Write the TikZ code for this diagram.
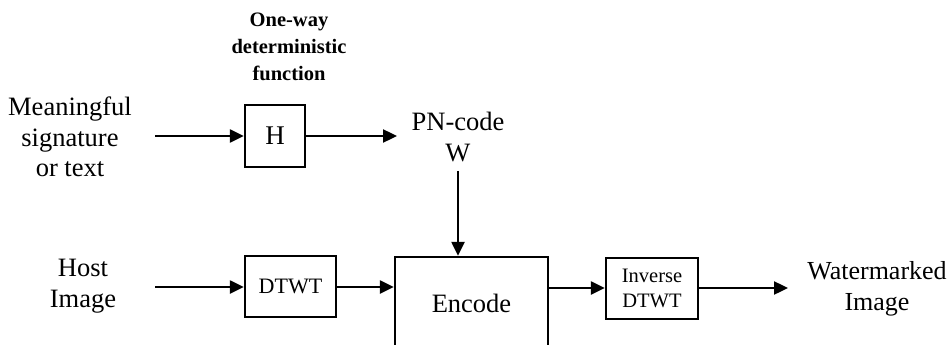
\documentclass[tikz,border=0pt]{standalone}
\usepackage{fontspec}
\setmainfont{Liberation Serif}
\usetikzlibrary{arrows.meta}
\begin{document}
\begin{tikzpicture}[x=1pt,y=-1pt,
 lbl/.style={align=center,font=\fontsize{26.5}{30.5}\selectfont,inner sep=0pt},
 blk/.style={draw,line width=2.4pt,inner sep=0pt,font=\fontsize{22}{25}\selectfont,align=center},
 arr/.style={line width=2.4pt,-{Triangle[length=14pt,width=13pt]}},
]
\useasboundingbox (0,0) rectangle (948,345);
\clip (0,0) rectangle (948,345);
% top row
\node[lbl,font=\bfseries\fontsize{20.5}{27}\selectfont] (fn) at (289,47) {One-way\\deterministic\\function};
\node[lbl] (msg) at (70,137) {Meaningful\\signature\\or text};
\node[blk,minimum width=60,minimum height=62,font=\fontsize{27}{30}\selectfont] (H) at (275,136) {H};
\node[lbl] (pn) at (458,137) {PN-code\\W};
\coordinate (m0) at (155,136);
\coordinate (p0) at (397,136);
% bottom row
\node[lbl] (host) at (83,286) {Host\\Image};
\node[blk,minimum width=91,minimum height=61] (dtwt) at (290.5,286.5) {DTWT};
\node[blk,minimum width=153,minimum height=110] (enc) at (471.5,312) {};
\node[lbl] (enctxt) at (471.5,303) {Encode};
\node[blk,minimum width=92,minimum height=61,font=\fontsize{20.5}{25}\selectfont] (inv) at (652,288.5) {Inverse\\DTWT};
\node[lbl,font=\fontsize{26}{30.5}\selectfont] (wm) at (877,289) {Watermarked\\Image};
\coordinate (h0) at (155,287);
\coordinate (w0) at (788,288);
% connectors
\draw[arr] ([yshift=-9pt]pn.south) -- (pn.south |- enc.north);
\draw[arr] (m0) -- (m0 -| H.west);
\draw[arr] (H.east |- p0) -- (p0);
\draw[arr] (h0) -- (h0 -| dtwt.west);
\draw[arr] (dtwt.east |- h0) -- (h0 -| enc.west);
\draw[arr] (enc.east |- w0) -- (w0 -| inv.west);
\draw[arr] (inv.east |- w0) -- (w0);
\end{tikzpicture}
\end{document}
